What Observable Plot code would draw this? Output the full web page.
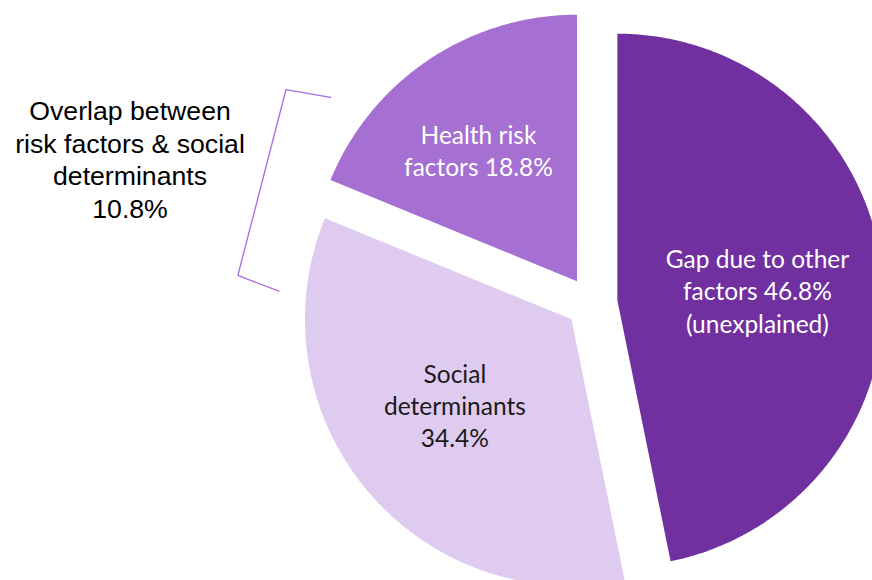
<!DOCTYPE html>
<html>
<head>
<meta charset="utf-8">
<script src="https://cdn.jsdelivr.net/npm/d3@7"></script>
<script src="https://cdn.jsdelivr.net/npm/@observablehq/plot@0.6"></script>
<style>
  html, body { margin: 0; padding: 0; background: #ffffff; overflow: hidden; }
  #chart svg { display: block; }
</style>
</head>
<body>
<div id="chart"></div>
<script>
// ---------------- DATA ----------------
const categories = ["Gap due to other factors", "Social determinants", "Health risk factors"];
const shares = [46.8, 34.4, 18.8];
const sliceLabels = [
  "Gap due to other\nfactors 46.8%\n(unexplained)",
  "Social\ndeterminants\n34.4%",
  "Health risk\nfactors 18.8%"
];
const overlapShare = 10.8;
const overlapLabel = "Overlap between\nrisk factors & social\ndeterminants\n10.8%";

// ---------------- STYLE / LAYOUT ----------------
const palette = ["#7030a0", "#dfcbf0", "#a66fd2"];
const labelInk = ["#ffffff", "#1a1a1a", "#ffffff"];
const W = 872, H = 580;
const centerPx = [591, 302.3];   // pie centre in pixels
const radiusPx = 266.5;
const explodePx = 26;
const k = 1 / radiusPx;          // data units: pie radius = 1
const xDomain = [(0 - centerPx[0]) * k, (W - centerPx[0]) * k];
const yDomain = [(centerPx[1] - H) * k, (centerPx[1] - 0) * k];
const explode = explodePx * k;
const labelRadius = 0.56;
const labelNudgePx = [[-8.4, 4.8], [-1.6, -9.9], [-15.4, -7.7]];

// ---------------- GEOMETRY via d3.pie ----------------
const rows = categories.map((name, i) => ({name, share: shares[i], label: sliceLabels[i], ink: labelInk[i]}));
const arcs = d3.pie().sort(null).value(d => d.share).startAngle(0).endAngle(2 * Math.PI)(rows);

const polys = [];
const labelRows = [];
arcs.forEach((a, i) => {
  const mid = (a.startAngle + a.endAngle) / 2;
  const ox = explode * Math.sin(mid), oy = explode * Math.cos(mid);
  const name = a.data.name;
  polys.push({name, x: ox, y: oy});
  const steps = Math.ceil((a.endAngle - a.startAngle) / (Math.PI / 360));
  for (let s = 0; s <= steps; ++s) {
    const t = a.startAngle + (a.endAngle - a.startAngle) * s / steps;
    polys.push({name, x: ox + Math.sin(t), y: oy + Math.cos(t)});
  }
  polys.push({name, x: ox, y: oy});
  labelRows.push({
    text: a.data.label,
    ink: a.data.ink,
    x: ox + labelRadius * Math.sin(mid) + labelNudgePx[i][0] * k,
    y: oy + labelRadius * Math.cos(mid) - labelNudgePx[i][1] * k
  });
});

// bracket around the boundary between social determinants and health risk factors
const boundary = arcs[1].endAngle;
const deg = Math.PI / 180;
const bracketPolar = [
  [boundary + 15.9 * deg, 1.246],
  [boundary + 12.6 * deg, 1.398],
  [boundary - 17.9 * deg, 1.331],
  [boundary - 20.2 * deg, 1.174]
];
const bracket = bracketPolar.map(([t, r]) => ({x: r * Math.sin(t), y: r * Math.cos(t)}));
const spineMid = {x: (bracket[1].x + bracket[2].x) / 2, y: (bracket[1].y + bracket[2].y) / 2};
const overlapRows = [{text: overlapLabel, x: spineMid.x - 131.9 * k, y: spineMid.y + 24.1 * k}];

// ---------------- PLOT ----------------
const chart = Plot.plot({
  width: W,
  height: H,
  margin: 0,
  style: {background: "#ffffff"},
  x: {domain: xDomain, range: [0, W], axis: null},
  y: {domain: yDomain, range: [H, 0], axis: null},
  color: {domain: categories, range: palette},
  marks: [
    Plot.line(polys, {x: "x", y: "y", z: "name", fill: "name", stroke: "none", clip: true}),
    Plot.line(bracket, {x: "x", y: "y", stroke: "#a46de0", strokeWidth: 1.3, strokeLinejoin: "round", curve: "linear"}),
    Plot.text(labelRows.filter(d => d.ink === "#ffffff"), {
      x: "x", y: "y", text: "text", fill: "#ffffff",
      fontFamily: "Lato, 'Open Sans', sans-serif", fontSize: 24.5, lineHeight: 32.5 / 24.5,
      textAnchor: "middle", lineAnchor: "middle"
    }),
    Plot.text(labelRows.filter(d => d.ink !== "#ffffff"), {
      x: "x", y: "y", text: "text", fill: "#1a1a1a",
      fontFamily: "Lato, 'Open Sans', sans-serif", fontSize: 24.5, lineHeight: 32.5 / 24.5,
      textAnchor: "middle", lineAnchor: "middle"
    }),
    Plot.text(overlapRows, {
      x: "x", y: "y", text: "text", fill: "#000000",
      fontFamily: "'Liberation Sans', Arial, sans-serif", fontSize: 26.67, lineHeight: 32.5 / 26.67,
      textAnchor: "middle", lineAnchor: "middle"
    })
  ]
});
document.getElementById("chart").append(chart);
</script>
</body>
</html>
